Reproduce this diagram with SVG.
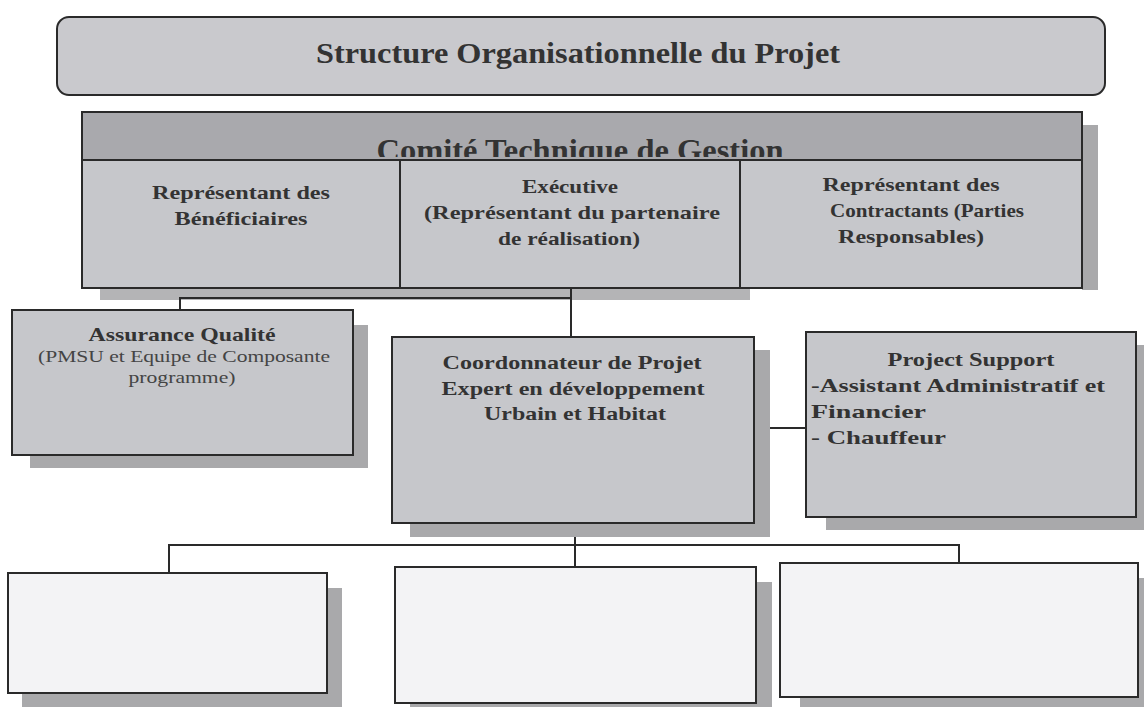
<svg xmlns="http://www.w3.org/2000/svg" width="1144" height="707" viewBox="0 0 1144 707">
<style>
.box{fill:#c6c7cb;stroke:#2a2a2a;stroke-width:2}
.wbox{fill:#f3f3f5;stroke:#2a2a2a;stroke-width:2}
.sh{fill:#a9a9ab}
.t{font-family:"Liberation Serif","Times New Roman",serif;font-weight:bold;fill:#333;font-size:19px}
.r{font-family:"Liberation Serif","Times New Roman",serif;fill:#444;font-size:16px}
.ln{fill:none;stroke:#2a2a2a;stroke-width:2}
</style>
<defs>
<clipPath id="hdrclip"><rect x="82" y="112" width="1000" height="45"/></clipPath>
</defs>
<rect width="1144" height="707" fill="#ffffff"/>

<g id="title">
<rect x="57" y="17" width="1048" height="78" rx="12" fill="#c9c9cd" stroke="#2a2a2a" stroke-width="2"/>
<text class="t" x="578" y="63" text-anchor="middle" textLength="524" lengthAdjust="spacingAndGlyphs" style="font-size:29px">Structure Organisationnelle du Projet</text>
</g>

<g id="comite">
<rect class="sh" x="1082" y="125" width="16" height="165"/>
<rect x="100" y="288" width="650" height="12" fill="#b4b4b6"/>
<rect class="box" x="82" y="112" width="1000" height="176"/>
<rect x="82" y="112" width="1000" height="48" fill="#a9a9ad" stroke="#2a2a2a" stroke-width="2"/>
<text class="t" x="580" y="161" text-anchor="middle" clip-path="url(#hdrclip)" style="font-size:31px" textLength="407" lengthAdjust="spacingAndGlyphs">Comité Technique de Gestion</text>
<line class="ln" x1="400" y1="160" x2="400" y2="288"/>
<line class="ln" x1="740" y1="160" x2="740" y2="288"/>
<text class="t" x="241" y="199" text-anchor="middle" textLength="178" lengthAdjust="spacingAndGlyphs">Représentant des</text>
<text class="t" x="241" y="225" text-anchor="middle" textLength="133" lengthAdjust="spacingAndGlyphs">Bénéficiaires</text>
<text class="t" x="570" y="193" text-anchor="middle" textLength="96" lengthAdjust="spacingAndGlyphs">Exécutive</text>
<text class="t" x="572" y="219" text-anchor="middle" textLength="296" lengthAdjust="spacingAndGlyphs">(Représentant du partenaire</text>
<text class="t" x="569" y="245" text-anchor="middle" textLength="142" lengthAdjust="spacingAndGlyphs">de réalisation)</text>
<text class="t" x="911" y="191" text-anchor="middle" textLength="177" lengthAdjust="spacingAndGlyphs">Représentant des</text>
<text class="t" x="927" y="217" text-anchor="middle" textLength="194" lengthAdjust="spacingAndGlyphs">Contractants (Parties</text>
<text class="t" x="911" y="243" text-anchor="middle" textLength="146" lengthAdjust="spacingAndGlyphs">Responsables)</text>
</g>

<g id="connectors">
<polyline class="ln" points="571,289 571,337"/>
<polyline class="ln" points="571,298 180,298 180,311"/>
<polyline class="ln" points="754,428 806,428"/>
<polyline class="ln" points="575,523 575,568"/>
<polyline class="ln" points="169,573 169,545 959,545 959,564"/>
</g>

<g id="assurance">
<rect class="sh" x="30" y="325" width="338" height="143"/>
<rect class="box" x="12" y="310" width="341" height="145"/>
<text class="t" x="182" y="341" text-anchor="middle" textLength="187" lengthAdjust="spacingAndGlyphs">Assurance Qualité</text>
<text class="r" x="184" y="362" text-anchor="middle" textLength="292" lengthAdjust="spacingAndGlyphs">(PMSU et Equipe de Composante</text>
<text class="r" x="182" y="383" text-anchor="middle" textLength="107" lengthAdjust="spacingAndGlyphs">programme)</text>
</g>

<g id="coordonnateur">
<rect class="sh" x="410" y="350" width="360" height="187"/>
<rect class="box" x="392" y="337" width="362" height="186"/>
<text class="t" x="572" y="369" text-anchor="middle" textLength="259" lengthAdjust="spacingAndGlyphs">Coordonnateur de Projet</text>
<text class="t" x="573" y="395" text-anchor="middle" textLength="263" lengthAdjust="spacingAndGlyphs">Expert en développement</text>
<text class="t" x="575" y="420" text-anchor="middle" textLength="182" lengthAdjust="spacingAndGlyphs">Urbain et Habitat</text>
</g>

<g id="support">
<rect class="sh" x="826" y="345" width="318" height="185"/>
<rect class="box" x="806" y="332" width="330" height="185"/>
<text class="t" x="971" y="366" text-anchor="middle" textLength="167" lengthAdjust="spacingAndGlyphs">Project Support</text>
<text class="t" x="811" y="392" textLength="294" lengthAdjust="spacingAndGlyphs">-Assistant Administratif et</text>
<text class="t" x="811" y="418" textLength="115" lengthAdjust="spacingAndGlyphs">Financier</text>
<text class="t" x="811" y="444" textLength="135" lengthAdjust="spacingAndGlyphs">- Chauffeur</text>
</g>

<g id="bottom1">
<rect class="sh" x="22" y="588" width="320" height="119"/>
<rect class="wbox" x="8" y="573" width="319" height="120"/>
</g>
<g id="bottom2">
<rect class="sh" x="410" y="582" width="362" height="125"/>
<rect class="wbox" x="395" y="567" width="361" height="136"/>
</g>
<g id="bottom3">
<rect class="sh" x="800" y="578" width="344" height="129"/>
<rect class="wbox" x="780" y="563" width="358" height="134"/>
</g>
</svg>
